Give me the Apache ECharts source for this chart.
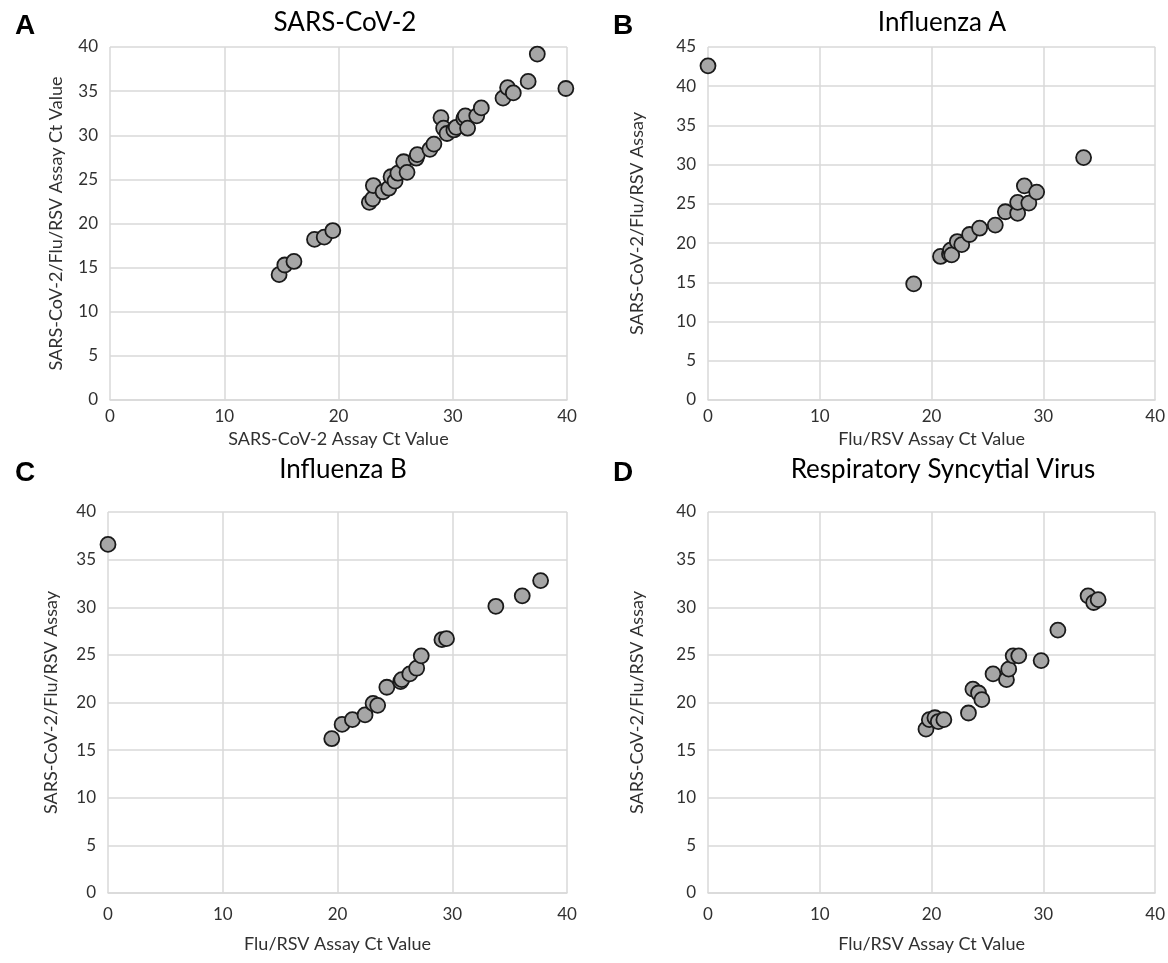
<!DOCTYPE html>
<html>
<head>
<meta charset="utf-8">
<script src="https://cdn.jsdelivr.net/npm/echarts@6/dist/echarts.min.js"></script>
<style>html,body{margin:0;padding:0;background:#fff;}#c{width:1168px;height:963px;}</style>
</head>
<body>
<div id="c"></div>
<script>
// Panel A: SARS-CoV-2
const sarsX = [14.8,15.3,16.1,17.9,18.75,19.5,22.7,23.0,23.05,23.9,24.4,24.6,24.95,25.2,25.7,26.0,26.8,26.9,28.0,28.35,28.97,29.2,29.5,30.1,30.3,30.97,31.1,31.3,32.1,32.5,34.4,34.8,35.3,36.6,37.4,39.9];
const sarsY = [14.2,15.3,15.7,18.2,18.45,19.2,22.4,22.8,24.3,23.6,24.0,25.3,24.8,25.7,27.0,25.8,27.4,27.8,28.4,29.0,32.0,30.8,30.2,30.6,30.9,31.9,32.2,30.8,32.2,33.1,34.2,35.4,34.8,36.1,39.2,35.3];
// Panel B: Influenza A
const fluAX = [0,18.4,20.8,21.6,21.7,21.8,22.3,22.7,23.4,24.3,25.7,26.6,27.7,27.7,28.3,28.7,29.4,33.6];
const fluAY = [42.6,14.8,18.3,18.6,19.1,18.5,20.2,19.8,21.1,21.9,22.3,24.0,23.8,25.2,27.3,25.1,26.5,30.9];
// Panel C: Influenza B
const fluBX = [0,19.5,20.4,21.3,22.4,23.1,23.5,24.3,25.5,25.6,26.3,26.9,27.3,29.1,29.5,33.8,36.1,37.7];
const fluBY = [36.6,16.2,17.7,18.2,18.7,19.9,19.7,21.6,22.2,22.4,23.0,23.6,24.9,26.6,26.7,30.1,31.2,32.8];
// Panel D: RSV
const rsvX = [19.5,19.8,20.3,20.6,21.1,23.3,23.7,24.2,24.5,25.5,26.7,26.9,27.3,27.8,29.8,31.3,34.0,34.5,34.9];
const rsvY = [17.2,18.2,18.4,18.0,18.2,18.9,21.4,21.0,20.3,23.0,22.4,23.5,24.9,24.9,24.4,27.6,31.2,30.5,30.8];

const panelTitles = ['SARS-CoV-2','Influenza A','Influenza B','Respiratory Syncytial Virus'];
const panelLetters = ['A','B','C','D'];
const xNames = ['SARS-CoV-2 Assay Ct Value','Flu/RSV Assay Ct Value','Flu/RSV Assay Ct Value','Flu/RSV Assay Ct Value'];
const yNames = ['SARS-CoV-2/Flu/RSV Assay Ct Value','SARS-CoV-2/Flu/RSV Assay','SARS-CoV-2/Flu/RSV Assay','SARS-CoV-2/Flu/RSV Assay'];
const yMax = [40,45,40,40];
const xMax = [40,40,40,40];

const pairs = (xs, ys) => xs.map((x,i)=>[x, ys[i]]);
const seriesData = [pairs(sarsX,sarsY), pairs(fluAX,fluAY), pairs(fluBX,fluBY), pairs(rsvX,rsvY)];

const FONT = 'Lato, "Open Sans", sans-serif';
const TEXT = '#303030';
const grids = [
  {left:110, top:47, width:457, height:353},
  {left:708, top:47, width:455, height:353},
  {left:108, top:512, width:459, height:381},
  {left:708, top:512, width:455, height:381}
];
const titleCenters = [340, 937, 338, 938];
const titleTops = [5, 5, 452, 452];
const letterLefts = [10, 608, 10, 608];
const xLabelMargin = [8, 8, 13, 13];
const xNameGap = [30, 30, 42, 42];
const yNameGap = [45, 62, 48, 62];

const chart = echarts.init(document.getElementById('c'), null, {renderer:'canvas'});
const gridLine = {show:true, lineStyle:{color:'#d9d9d9', width:1.5}};
const option = {
  animation:false,
  backgroundColor:'#fff',
  title: [].concat(
    panelTitles.map((t,i)=>({text:t, left:titleCenters[i], top:titleTops[i], textAlign:'center',
      textStyle:{fontFamily:FONT, fontSize:26, fontWeight:'normal', color:'#000'}})),
    panelLetters.map((t,i)=>({text:t, left:letterLefts[i], top:titleTops[i]+2,
      textStyle:{fontFamily:'"Liberation Sans", Arial, sans-serif', fontSize:28, fontWeight:'bold', color:'#000'}}))
  ),
  grid: grids.map(g=>Object.assign({containLabel:false}, g)),
  xAxis: grids.map((g,i)=>({
    type:'value', gridIndex:i, min:0, max:xMax[i], interval:10,
    name:xNames[i], nameLocation:'middle', nameGap:xNameGap[i],
    nameTextStyle:{fontFamily:FONT, fontSize:18, color:TEXT},
    axisLine:{show:true, lineStyle:{color:'#d9d9d9', width:1.5}},
    axisTick:{show:false},
    axisLabel:{fontFamily:FONT, fontSize:17, color:TEXT, margin:xLabelMargin[i]},
    splitLine:gridLine
  })),
  yAxis: grids.map((g,i)=>({
    type:'value', gridIndex:i, min:0, max:yMax[i], interval:5,
    name:yNames[i], nameLocation:'middle', nameGap:yNameGap[i],
    nameTextStyle:{fontFamily:FONT, fontSize:18, color:TEXT},
    axisLine:{show:false},
    axisTick:{show:false},
    axisLabel:{fontFamily:FONT, fontSize:17, color:TEXT, margin:12},
    splitLine:gridLine
  })),
  series: seriesData.map((d,i)=>({
    type:'scatter', xAxisIndex:i, yAxisIndex:i, data:d,
    symbol:'circle', symbolSize:15,
    itemStyle:{color:'#a6a6a6', borderColor:'#1a1a1a', borderWidth:1.8, opacity:1}
  }))
};
chart.setOption(option);
</script>
</body>
</html>
